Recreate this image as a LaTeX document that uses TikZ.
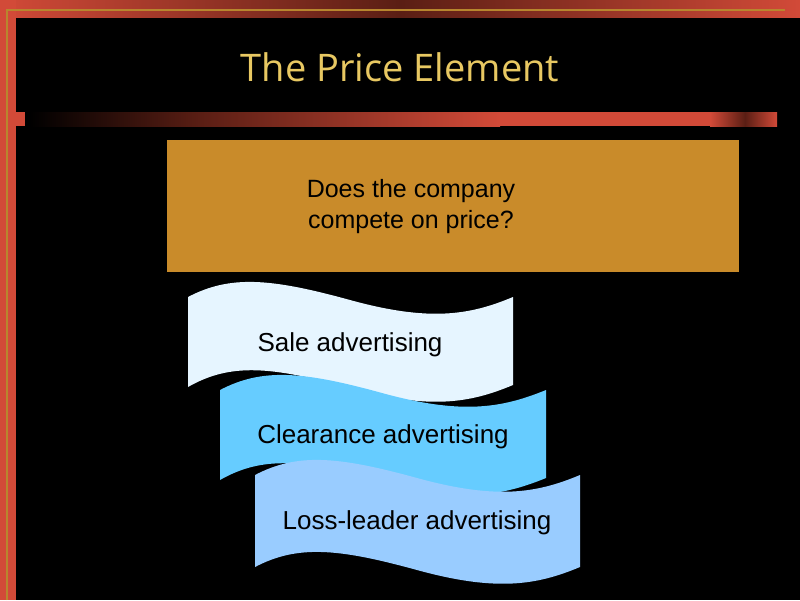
\documentclass[tikz,border=0pt]{standalone}
\usepackage{fontspec}
\setmainfont{Liberation Sans}
\newfontfamily\titlefont{Open Sans}
\definecolor{frameRed}{HTML}{D24A38}
\definecolor{darkRed}{HTML}{5A1E14}
\definecolor{goldLine}{HTML}{B8862E}
\definecolor{boxGold}{HTML}{C98B2A}
\definecolor{titleGold}{HTML}{E8C862}
\definecolor{waveA}{HTML}{E6F5FF}
\definecolor{waveB}{HTML}{66CCFF}
\definecolor{waveC}{HTML}{99CCFF}
\begin{document}
\begin{tikzpicture}[x=1pt,y=-1pt,
  lbl/.style={font=\fontsize{26}{30}\selectfont, text=black, align=center}]
\useasboundingbox (0,0) rectangle (800,600);
\fill[black] (0,0) rectangle (800,600);
% frame
\shade[left color=frameRed, right color=darkRed] (0,0) rectangle (400,17);
\shade[left color=darkRed, right color=frameRed] (400,0) rectangle (800,17);
\fill[frameRed] (0,0) rectangle (16,600);
\draw[goldLine, line width=1.2] (7,600) -- (7,10) -- (785,10);
% horizontal bar
\fill[frameRed] (15,112) rectangle (25,126);
\shade[left color=black, right color=darkRed] (30,112) rectangle (200,126);
\shade[left color=darkRed, right color=frameRed] (200,112) rectangle (500,126);
\fill[frameRed] (500,112) rectangle (777,126);
\shade[left color=frameRed, right color=darkRed] (710,112) rectangle (745,126);
\shade[left color=darkRed, right color=frameRed] (745,112) rectangle (777,126);
% title
\node[font=\titlefont\fontsize{38}{44}\selectfont, text=titleGold] (title) at (400,67) {The Price Element};
% gold box
\fill[boxGold] (167,140) rectangle (739,272);
\node[lbl, font=\fontsize{25}{31}\selectfont] (q) at (411,207) {Does the company\\compete on price?};
% waves
\fill[waveA] (188,297) .. controls (230,275) and (270,278) .. (350,300) .. controls (430,322) and (470,315) .. (513,297)
  -- (513,385) .. controls (470,403) and (430,410) .. (350,388) .. controls (270,366) and (230,363) .. (188,387) -- cycle;
\node[lbl] (sale) at (350,345) {Sale advertising};
\fill[waveB] (220,390) .. controls (262,368) and (302,371) .. (382,393) .. controls (462,415) and (502,408) .. (546,390)
  -- (546,478) .. controls (502,496) and (462,503) .. (382,481) .. controls (302,459) and (262,456) .. (220,480) -- cycle;
\node[lbl] (clear) at (383,437) {Clearance advertising};
\fill[waveC] (255,475) .. controls (297,453) and (337,456) .. (417,478) .. controls (497,500) and (537,493) .. (580,475)
  -- (580,567) .. controls (537,585) and (497,592) .. (417,570) .. controls (337,548) and (297,545) .. (255,567) -- cycle;
\node[lbl] (loss) at (417,523) {Loss-leader advertising};
\end{tikzpicture}
\end{document}
